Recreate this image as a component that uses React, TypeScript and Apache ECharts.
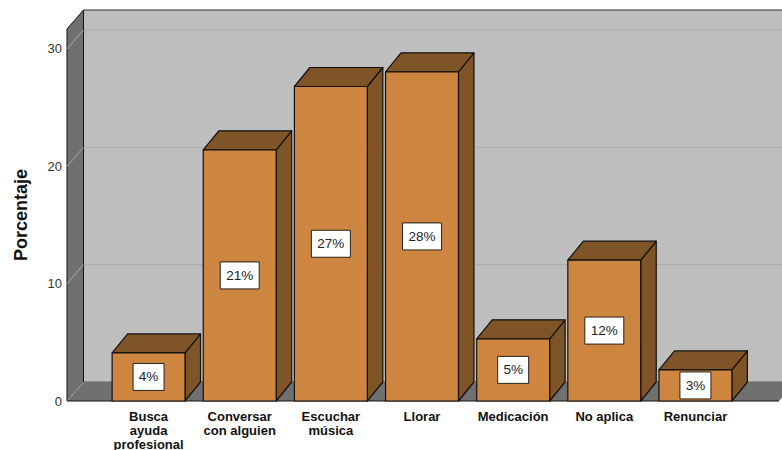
import React, { useEffect, useRef } from "react";
import * as echarts from "echarts";

const categories = ["Busca\nayuda\nprofesional", "Conversar\ncon alguien", "Escuchar\nmúsica", "Llorar", "Medicación", "No aplica", "Renunciar"];
const values = [4.1, 21.4, 26.8, 28.05, 5.3, 12.0, 2.65];
const valueLabels = ["4%", "21%", "27%", "28%", "5%", "12%", "3%"];
const yTicks = [0, 10, 20, 30];
const yMax = 31.7;

const FONT = '"Liberation Sans", Arial, sans-serif';
const WALL_DX = 16.5;
const WALL_DY = 19;
const BAR_DX = 15.5;
const BAR_DY = 19;
const LINE = "#111111";

function renderWalls(params: any, api: any) {
  const cs = params.coordSys;
  const left = cs.x - 36;
  const right = cs.x + cs.width + 38;
  const y0 = api.coord([0, 0])[1];
  const yTop = api.coord([0, yMax])[1];
  const children: any[] = [
    {
      type: "rect",
      shape: { x: left + WALL_DX, y: yTop - WALL_DY, width: right - left + 10, height: y0 - yTop },
      style: { fill: "#bebebe", stroke: "#333333", lineWidth: 1 },
    },
  ];
  yTicks.forEach((t) => {
    const y = api.coord([0, t])[1];
    children.push({
      type: "line",
      shape: { x1: left + WALL_DX, y1: y - WALL_DY, x2: right + WALL_DX, y2: y - WALL_DY },
      style: { stroke: "#aaaaaa", lineWidth: 1 },
    });
  });
  children.push({
    type: "polygon",
    shape: { points: [[left, yTop], [left + WALL_DX, yTop - WALL_DY], [left + WALL_DX, y0 - WALL_DY], [left, y0]] },
    style: { fill: "#707070", stroke: LINE, lineWidth: 1 },
  });
  children.push({
    type: "polygon",
    shape: { points: [[left, y0], [left + WALL_DX, y0 - WALL_DY], [right + WALL_DX, y0 - WALL_DY], [right, y0]] },
    style: { fill: "#707070", stroke: "none" },
  });
  yTicks.forEach((t) => {
    const y = api.coord([0, t])[1];
    children.push({
      type: "line",
      shape: { x1: left, y1: y, x2: left + WALL_DX, y2: y - WALL_DY },
      style: { stroke: "#aaaaaa", lineWidth: 1 },
    });
  });
  children.push({
    type: "line",
    shape: { x1: left, y1: y0, x2: right, y2: y0 },
    style: { stroke: LINE, lineWidth: 1 },
  });
  return { type: "group", children };
}

function renderBar(params: any, api: any) {
  const idx = api.value(0);
  const top = api.coord([idx, api.value(1)]);
  const base = api.coord([idx, 0]);
  const w = api.size([1, 0])[0] * 0.8;
  const x0 = top[0] - w / 2;
  const x1 = top[0] + w / 2;
  const y0 = top[1];
  const y1 = base[1];
  const stroke = { stroke: LINE, lineWidth: 1.2, lineJoin: "round" };
  const label = valueLabels[params.dataIndex];
  const boxW = label.length > 2 ? 39 : 31;
  const boxH = 27;
  const cy = (y0 + y1) / 2;
  return {
    type: "group",
    children: [
      {
        type: "polygon",
        shape: { points: [[x1, y0], [x1 + BAR_DX, y0 - BAR_DY], [x1 + BAR_DX, y1 - BAR_DY], [x1, y1]] },
        style: { fill: "#7f5427", ...stroke },
      },
      {
        type: "polygon",
        shape: { points: [[x0, y0], [x0 + BAR_DX, y0 - BAR_DY], [x1 + BAR_DX, y0 - BAR_DY], [x1, y0]] },
        style: { fill: "#7f5427", ...stroke },
      },
      {
        type: "rect",
        shape: { x: x0, y: y0, width: w, height: y1 - y0 },
        style: { fill: "#cd853f", ...stroke },
      },
      {
        type: "rect",
        shape: { x: top[0] - boxW / 2, y: cy - boxH / 2, width: boxW, height: boxH },
        style: { fill: "#ffffff", stroke: "#2a2016", lineWidth: 1 },
      },
      {
        type: "text",
        x: top[0],
        y: cy,
        style: {
          text: label,
          fill: "#222222",
          font: `13.5px ${FONT}`,
          align: "center",
          verticalAlign: "middle",
        },
      },
    ],
  };
}

export default function App() {
  const ref = useRef<HTMLDivElement>(null);
  useEffect(() => {
    document.body.style.margin = "0";
    const chart = echarts.init(ref.current!, undefined, { renderer: "svg" });
    chart.setOption({
      animation: false,
      backgroundColor: "#ffffff",
      grid: { left: 103, top: 29, width: 638, height: 372, outerBoundsMode: "none", containLabel: false },
      xAxis: {
        type: "category",
        data: categories,
        axisLine: { show: false },
        axisTick: { show: false },
        axisLabel: {
          interval: 0,
          margin: 8,
          color: "#111111",
          fontFamily: FONT,
          fontWeight: "bold",
          fontSize: 13,
          lineHeight: 14,
        },
      },
      yAxis: {
        type: "value",
        min: 0,
        max: yMax,
        interval: 10,
        name: "Porcentaje",
        nameLocation: "middle",
        nameGap: 73,
        nameTextStyle: { color: "#111111", fontFamily: FONT, fontWeight: "bold", fontSize: 18 },
        axisLine: { show: false },
        axisTick: { show: false },
        splitLine: { show: false },
        axisLabel: { margin: 41, color: "#333333", fontFamily: FONT, fontSize: 13, showMaxLabel: false, padding: [2, 0, 0, 0] },
      },
      series: [
        {
          type: "custom",
          coordinateSystem: "cartesian2d",
          clip: false,
          silent: true,
          z: 1,
          data: [[0, 0]],
          encode: { x: 0, y: 1 },
          renderItem: renderWalls,
        },
        {
          type: "custom",
          coordinateSystem: "cartesian2d",
          clip: false,
          silent: true,
          z: 2,
          data: values.map((v, i) => [i, v]),
          encode: { x: 0, y: 1 },
          renderItem: renderBar,
        },
      ],
    });
    return () => chart.dispose();
  }, []);
  return <div ref={ref} style={{ width: 782, height: 450 }} />;
}
